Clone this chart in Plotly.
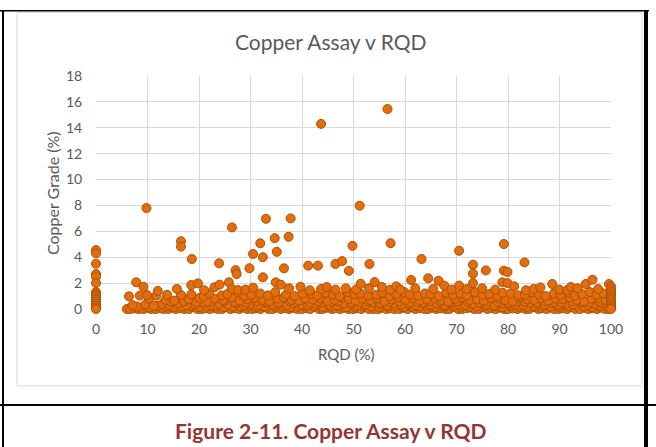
import plotly.graph_objects as go

# ---------------- data ----------------
# column of samples at RQD = 0
rqd_c0 = [0, 0, 0, 0, 0, 0, 0, 0, 0, 0, 0, 0, 0, 0, 0, 0]
cu_c0 = [4.55, 4.3, 3.5, 2.7, 2.5, 2.0, 1.3, 1.15, 1.0, 0.85, 0.7, 0.55, 0.4, 0.25, 0.1, 0.0]

# column of samples at RQD = 100
rqd_c100 = [100, 100, 100, 100, 100, 100, 100, 100, 100, 100, 100, 100]
cu_c100 = [1.75, 1.55, 1.35, 1.2, 1.0, 0.85, 0.7, 0.55, 0.4, 0.25, 0.1, 0.0]

# near-zero grades
rqd_r0 = [6.0, 6.7, 7.6, 8.3, 9.2, 10.0, 10.7, 11.6, 12.4, 13.1,
          14.0, 14.8, 15.5, 16.4, 17.2, 18.1, 18.8, 19.7, 20.5, 21.2,
          22.1, 22.9, 23.6, 24.5, 25.4, 26.1, 27.0, 27.8, 28.5, 29.4,
          30.3, 31.0, 31.9, 32.6, 33.5, 34.3, 35.0, 35.9, 36.8, 37.5,
          38.4, 39.1, 40.0, 40.9, 41.6, 42.5, 43.3, 44.0, 44.9, 45.8,
          46.5, 47.4, 48.1, 49.0, 49.9, 50.6, 51.5, 52.3, 53.0, 53.9,
          54.8, 55.5, 56.4, 57.1, 58.0, 58.9, 59.6, 60.5, 61.3, 62.0,
          62.9, 63.8, 64.5, 65.4, 66.1, 67.0, 67.9, 68.6, 69.5, 70.3,
          71.0, 71.9, 72.8, 73.5, 74.4, 75.1, 76.0, 76.9, 77.6, 78.5,
          79.3, 80.0, 80.9, 81.8, 82.5, 83.4, 84.1, 85.0, 85.9, 86.6,
          87.5, 88.3, 89.0, 89.9, 90.8, 91.5, 92.4, 93.1, 94.0, 94.9,
          95.6, 96.5, 97.3, 98.0, 98.9, 99.6]
cu_r0 = [0.0, 0.0, 0.05, 0.0, 0.0, 0.1, 0.0, 0.0, 0.05, 0.0,
         0.0, 0.1, 0.0, 0.05, 0.0, 0.0, 0.15, 0.0, 0.0, 0.05,
         0.0, 0.1, 0.0, 0.0, 0.15, 0.0, 0.05, 0.0, 0.1, 0.0,
         0.0, 0.05, 0.0, 0.15, 0.0, 0.0, 0.1, 0.0, 0.05, 0.0,
         0.1, 0.0, 0.0, 0.05, 0.0, 0.15, 0.0, 0.0, 0.1, 0.0,
         0.05, 0.0, 0.1, 0.0, 0.0, 0.05, 0.0, 0.15, 0.0, 0.0,
         0.0, 0.1, 0.0, 0.05, 0.0, 0.0, 0.1, 0.0, 0.15, 0.0,
         0.05, 0.0, 0.0, 0.1, 0.0, 0.05, 0.0, 0.0, 0.15, 0.0,
         0.0, 0.05, 0.1, 0.0, 0.0, 0.15, 0.0, 0.05, 0.0, 0.1,
         0.0, 0.0, 0.05, 0.0, 0.1, 0.0, 0.0, 0.15, 0.0, 0.05,
         0.0, 0.1, 0.0, 0.0, 0.05, 0.0, 0.15, 0.0, 0.0, 0.1,
         0.0, 0.05, 0.0, 0.1, 0.0, 0.0]

# very low grades
rqd_r0b = [8.0, 10.4, 12.0, 13.6, 15.1, 16.8, 18.4, 20.0, 21.5, 23.2,
           24.9, 26.5, 28.0, 29.7, 31.2, 32.8, 34.5, 36.0, 37.7, 39.3,
           40.8, 42.4, 44.1, 45.6, 47.1, 48.7, 50.3, 51.9, 53.4, 55.0,
           56.5, 58.1, 59.8, 61.4, 62.8, 64.6, 66.0, 67.7, 69.3, 70.9,
           72.4, 74.0, 75.6, 77.2, 78.9, 80.4, 82.0, 83.6, 85.2, 86.9,
           88.4, 90.0, 91.6, 93.2, 94.7, 96.3, 97.9, 99.3]
cu_r0b = [0.2, 0.15, 0.25, 0.2, 0.15, 0.2, 0.25, 0.15, 0.2, 0.25,
          0.15, 0.2, 0.2, 0.25, 0.15, 0.2, 0.25, 0.2, 0.15, 0.2,
          0.25, 0.2, 0.15, 0.2, 0.25, 0.15, 0.2, 0.25, 0.2, 0.15,
          0.2, 0.25, 0.15, 0.2, 0.2, 0.25, 0.15, 0.2, 0.25, 0.2,
          0.15, 0.2, 0.25, 0.2, 0.15, 0.25, 0.2, 0.15, 0.2, 0.25,
          0.2, 0.15, 0.2, 0.25, 0.2, 0.15, 0.25, 0.2]

# low grades
rqd_r1 = [7.1, 9.6, 11.2, 12.9, 14.3, 16.0, 17.6, 19.2, 20.8, 22.3,
          23.9, 25.6, 27.2, 28.7, 30.1, 31.4, 32.9, 34.2, 35.6, 37.1,
          38.3, 39.8, 41.2, 42.6, 43.9, 45.3, 46.8, 48.2, 49.6, 50.9,
          52.4, 53.7, 55.1, 56.6, 57.9, 59.3, 60.8, 62.1, 63.5, 64.9,
          66.3, 67.6, 69.0, 70.5, 71.8, 73.2, 74.6, 76.0, 77.4, 78.8,
          80.1, 81.6, 83.0, 84.3, 85.7, 87.1, 88.6, 89.9, 91.3, 92.7,
          94.1, 95.5, 96.8, 98.2, 99.5]
cu_r1 = [0.3, 0.35, 0.25, 0.4, 0.3, 0.45, 0.3, 0.35, 0.5, 0.3,
         0.4, 0.35, 0.45, 0.3, 0.4, 0.3, 0.5, 0.35, 0.4, 0.3,
         0.45, 0.35, 0.3, 0.4, 0.5, 0.35, 0.3, 0.45, 0.4, 0.3,
         0.35, 0.5, 0.4, 0.3, 0.45, 0.35, 0.4, 0.3, 0.5, 0.35,
         0.4, 0.3, 0.45, 0.35, 0.3, 0.4, 0.5, 0.35, 0.3, 0.45,
         0.4, 0.35, 0.3, 0.5, 0.4, 0.35, 0.45, 0.3, 0.4, 0.35,
         0.5, 0.3, 0.4, 0.45, 0.35]

# low-moderate grades
rqd_r1b = [14.6, 17.1, 19.4, 22.2, 24.8, 26.9, 29.1, 31.2, 33.1, 35.4,
           37.6, 39.0, 41.5, 43.2, 45.8, 47.0, 49.5, 51.1, 52.8, 55.3,
           57.0, 58.9, 61.1, 62.4, 64.8, 66.9, 68.7, 70.1, 72.2, 74.5,
           76.1, 78.0, 79.9, 81.7, 83.2, 85.5, 87.0, 88.9, 90.4, 92.6,
           94.3, 95.8, 97.7, 99.8]
cu_r1b = [0.55, 0.6, 0.5, 0.55, 0.6, 0.55, 0.5, 0.6, 0.55, 0.5,
          0.6, 0.55, 0.5, 0.6, 0.55, 0.6, 0.5, 0.55, 0.6, 0.5,
          0.55, 0.6, 0.5, 0.55, 0.6, 0.55, 0.5, 0.6, 0.55, 0.5,
          0.6, 0.55, 0.5, 0.6, 0.55, 0.5, 0.6, 0.55, 0.5, 0.6,
          0.55, 0.5, 0.6, 0.55]

# moderate grades
rqd_r2 = [10.3, 13.5, 15.2, 18.0, 20.1, 21.6, 23.1, 24.7, 26.4, 27.9,
          29.4, 30.8, 32.3, 33.7, 35.2, 36.5, 38.0, 39.4, 40.7, 42.1,
          43.5, 45.0, 46.3, 47.7, 49.1, 50.4, 51.8, 53.3, 54.6, 56.0,
          57.4, 58.7, 60.1, 61.6, 62.9, 64.3, 65.7, 67.1, 68.4, 69.8,
          71.2, 72.6, 74.0, 75.3, 76.7, 78.2, 79.5, 80.9, 82.3, 83.7,
          85.1, 86.4, 87.8, 89.3, 90.6, 92.0, 93.4, 94.8, 96.2, 97.6,
          99.0]
cu_r2 = [0.8, 0.7, 0.65, 0.75, 0.85, 0.6, 0.8, 0.7, 0.9, 0.65,
         0.75, 0.85, 0.7, 0.6, 0.8, 0.9, 0.7, 0.65, 0.8, 0.75,
         0.85, 0.6, 0.7, 0.9, 0.75, 0.65, 0.8, 0.7, 0.85, 0.6,
         0.75, 0.9, 0.7, 0.8, 0.65, 0.75, 0.85, 0.7, 0.6, 0.8,
         0.9, 0.7, 0.75, 0.65, 0.85, 0.8, 0.7, 0.6, 0.9, 0.75,
         0.7, 0.85, 0.65, 0.8, 0.75, 0.9, 0.7, 0.6, 0.8, 0.85,
         0.7]

# upper part of the dense band
rqd_r3 = [6.4, 8.5, 9.9, 11.7, 13.8, 16.5, 18.5, 20.9, 22.0, 24.4,
          25.5, 27.6, 28.8, 30.2, 31.9, 33.4, 34.8, 36.9, 38.6, 40.1,
          41.9, 43.0, 44.6, 46.0, 47.3, 48.9, 50.2, 51.3, 52.9, 54.4,
          55.6, 57.0, 58.3, 59.9, 61.0, 62.5, 63.9, 65.0, 66.5, 68.0,
          69.3, 70.8, 72.0, 73.6, 75.0, 76.4, 77.9, 79.0, 80.5, 82.0,
          83.3, 84.7, 86.0, 87.3, 88.9, 90.2, 91.7, 93.0, 94.4, 95.9,
          97.2, 98.5, 100]
cu_r3 = [0.98, 1.03, 1.08, 1.03, 1.1, 1.08, 1.13, 1.0, 1.2, 1.05,
         1.15, 1.25, 1.0, 1.1, 1.2, 1.05, 1.3, 1.1, 1.0, 1.2,
         1.15, 1.05, 1.25, 1.1, 1.0, 1.3, 1.15, 1.2, 1.05, 1.1,
         1.25, 1.0, 1.15, 1.3, 1.1, 1.05, 1.2, 1.15, 1.0, 1.25,
         1.1, 1.2, 1.05, 1.3, 1.1, 1.15, 1.0, 1.25, 1.2, 1.05,
         1.1, 1.3, 1.15, 1.0, 1.2, 1.1, 1.25, 1.05, 1.15, 1.3,
         1.1, 1.2, 1.3]

# scattered grades 1.4 - 2.4 %
rqd_r4 = [7.8, 9.2, 12.0, 15.7, 18.5, 19.8, 21.0, 23.0, 24.0, 25.8,
          26.4, 27.6, 29.0, 30.5, 32.4, 34.9, 35.9, 37.5, 39.7, 41.5,
          43.7, 44.8, 46.5, 48.5, 50.5, 51.4, 53.0, 54.1, 55.5, 57.1,
          58.3, 59.1, 61.2, 62.0, 64.5, 65.5, 66.5, 67.6, 69.0, 70.5,
          72.0, 73.2, 75.0, 77.5, 78.9, 79.9, 81.2, 83.5, 85.0, 86.3,
          88.6, 90.0, 91.5, 92.2, 93.5, 95.1, 96.4, 97.5, 99.6]
cu_r4 = [2.06, 1.72, 1.4, 1.55, 1.85, 1.98, 1.45, 1.68, 1.88, 2.06,
         1.55, 1.46, 1.5, 1.65, 2.45, 2.06, 1.88, 1.6, 1.72, 1.45,
         1.55, 1.7, 1.5, 1.6, 1.5, 1.95, 1.6, 2.08, 1.7, 1.48,
         1.75, 1.5, 2.24, 1.6, 2.37, 1.55, 2.18, 1.81, 1.5, 1.81,
         1.55, 2.0, 1.6, 1.5, 2.06, 2.0, 1.75, 1.45, 1.55, 1.67,
         1.93, 1.5, 1.45, 1.7, 1.6, 1.93, 2.26, 1.55, 1.93]

# high-grade outliers
rqd_hi = [9.8, 16.5, 16.5, 18.6, 23.9, 26.4, 27.1, 27.3, 29.8, 30.5,
          31.9, 32.4, 33.0, 34.7, 35.1, 36.5, 37.4, 37.8, 41.2, 43.1,
          43.7, 46.5, 47.8, 49.1, 49.8, 51.2, 53.1, 56.6, 57.2, 63.2,
          70.5, 73.2, 73.2, 75.7, 79.2, 79.2, 79.9, 83.2]
cu_hi = [7.8, 5.23, 4.82, 3.86, 3.53, 6.3, 3.0, 2.7, 3.15, 4.25,
         5.08, 4.0, 6.97, 5.47, 4.42, 3.14, 5.58, 7.0, 3.35, 3.35,
         14.3, 3.48, 3.7, 2.95, 4.88, 7.98, 3.48, 15.45, 5.08, 3.86,
         4.5, 3.42, 2.73, 2.98, 5.02, 2.96, 2.86, 3.6]

x_ticks = [0, 10, 20, 30, 40, 50, 60, 70, 80, 90, 100]
y_ticks = [0, 2, 4, 6, 8, 10, 12, 14, 16, 18]

chart_title = "Copper Assay v RQD"
x_title = "RQD (%)"
y_title = "Copper Grade (%)"
caption = "Figure 2-11. Copper Assay v RQD"

# ---------------- figure ----------------
rqd = (rqd_c0 + rqd_r0 + rqd_r0b + rqd_r1 + rqd_r1b + rqd_r2 + rqd_r3
       + rqd_r4 + rqd_hi + rqd_c100)
cu = (cu_c0 + cu_r0 + cu_r0b + cu_r1 + cu_r1b + cu_r2 + cu_r3
      + cu_r4 + cu_hi + cu_c100)

W, H = 656, 447
L, R, T, B = 96, 45, 76, 138
PW, PH = W - L - R, H - T - B

FONT = "Lato, Open Sans, sans-serif"


def px(x):
    return (x - L) / PW


def py(y):
    return (H - B - y) / PH


fig = go.Figure()
fig.add_trace(go.Scatter(
    x=rqd, y=cu, mode="markers", cliponaxis=False,
    marker=dict(size=9, color="#E46C0A", line=dict(color="#A65207", width=1)),
    hoverinfo="x+y",
))

grid = "#D9D9D9"
tick_font = dict(family=FONT, size=14, color="#595959")

fig.update_layout(
    width=W, height=H,
    margin=dict(l=L, r=R, t=T, b=B, pad=0),
    paper_bgcolor="white", plot_bgcolor="white",
    showlegend=False,
    font=dict(family=FONT, color="#595959"),
    xaxis=dict(range=[0, 100], tickvals=x_ticks, showgrid=True, gridcolor=grid,
               gridwidth=1, zeroline=False, showline=False, tickfont=tick_font,
               ticks="outside", ticklen=7, tickcolor="rgba(0,0,0,0)"),
    yaxis=dict(range=[0, 18], tickvals=y_ticks, showgrid=True, gridcolor=grid,
               gridwidth=1, zeroline=False, showline=False, tickfont=tick_font,
               ticks="outside", ticklen=10, tickcolor="rgba(0,0,0,0)"),
)


def black_bar(x0, x1, y0, y1):
    return dict(type="rect", xref="paper", yref="paper", layer="above",
                x0=px(x0), x1=px(x1), y0=py(y1), y1=py(y0),
                line=dict(width=0), fillcolor="#000000")


shapes = [
    # chart frame (light grey)
    dict(type="rect", xref="paper", yref="paper", layer="below",
         x0=px(17), x1=px(642), y0=py(386), y1=py(12.5),
         line=dict(color="#D9D9D9", width=1), fillcolor="rgba(0,0,0,0)"),
    # table borders (black)
    black_bar(0, 649, 10, 11.5),
    black_bar(2, 4, 10, 447),
    black_bar(644, 648, 10, 447),
    black_bar(0, 656, 404, 406),
]
fig.update_layout(shapes=shapes)

annotations = [
    dict(text=chart_title, xref="paper", yref="paper", x=px(331), y=py(42),
         xanchor="center", yanchor="middle", showarrow=False,
         font=dict(family=FONT, size=21, color="#595959")),
    dict(text=x_title, xref="paper", yref="paper", x=px(346), y=py(354),
         xanchor="center", yanchor="middle", showarrow=False,
         font=dict(family=FONT, size=15, color="#595959")),
    dict(text=y_title, xref="paper", yref="paper", x=px(52), y=py(193),
         xanchor="center", yanchor="middle", showarrow=False, textangle=-90,
         font=dict(family=FONT, size=16, color="#595959")),
    dict(text="<b>" + caption + "</b>", xref="paper", yref="paper", x=px(331), y=py(430),
         xanchor="center", yanchor="middle", showarrow=False,
         font=dict(family=FONT, size=21, color="#943634")),
]
fig.update_layout(annotations=annotations)

# the page's default body margin would shift the figure; remove it
fig.write_html("out.html", config={"displayModeBar": False},
               post_script="document.body.style.margin='0';")
